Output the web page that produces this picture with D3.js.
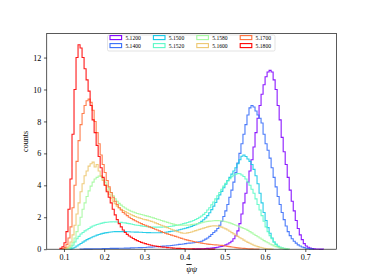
<!DOCTYPE html>
<html>
<head>
<meta charset="utf-8">
<script src="https://cdn.jsdelivr.net/npm/d3@7"></script>
<style>
  body { margin: 0; background: #fff; }
  svg { display: block; }
  .axis text { font-family: "Liberation Serif", serif; font-size: 8.1px; fill: #000; }
  .axis path, .axis line { stroke: #000; stroke-width: 0.65; }
</style>
</head>
<body>
<svg id="chart" width="374" height="280"></svg>
<script>
// beta values (legend labels), drawn in this order
const betas = ["5.1200", "5.1400", "5.1500", "5.1520", "5.1580", "5.1600", "5.1700", "5.1800"];
const colors = ["#8000ff", "#376df9", "#12c8e6", "#5bf9c7", "#a4f99f", "#edc76f", "#ff6f39", "#ff0000"];

// every series uses bins of this width, first bin edge given in binStarts
const binWidth = 0.005;
const binStarts = [0.42, 0.14, 0.115, 0.11, 0.105, 0.10, 0.095, 0.09];

const counts5120 = [0.01, 0.01, 0.02, 0.02, 0.03, 0.03, 0.04, 0.05, 0.06, 0.07, 0.08, 0.1, 0.12, 0.15, 0.18, 0.22,
  0.27, 0.33, 0.4, 0.5, 0.65, 0.85, 1.15, 1.6, 2.2, 2.9, 3.5, 4.2, 4.9, 5.6, 6.4, 7.3, 8.2, 9.0, 9.7, 10.3,
  10.8, 11.1, 11.2, 11.1, 10.6, 10.0, 9.0, 8.1, 7.0, 6.1, 5.3, 4.5, 3.7, 3.0, 2.4, 1.8, 1.3, 0.9, 0.6, 0.35,
  0.2, 0.12, 0.07, 0.04, 0.02, 0.01, 0.01, 0.005, 0.005];

const counts5140 = [0.01, 0.01, 0.02, 0.02, 0.02, 0.02, 0.03, 0.03, 0.03, 0.03, 0.03, 0.04, 0.04, 0.04, 0.04, 0.05,
  0.05, 0.05, 0.05, 0.06, 0.06, 0.06, 0.07, 0.07, 0.07, 0.08, 0.08, 0.09, 0.09, 0.1, 0.1, 0.11, 0.11, 0.12,
  0.13, 0.13, 0.14, 0.15, 0.16, 0.17, 0.18, 0.19, 0.2, 0.21, 0.22, 0.23, 0.25, 0.26, 0.28, 0.3, 0.31, 0.33,
  0.35, 0.37, 0.38, 0.39, 0.4, 0.42, 0.45, 0.47, 0.5, 0.56, 0.63, 0.7, 0.8, 0.92, 1.05, 1.15, 1.3, 1.5, 1.75,
  2.05, 2.4, 2.8, 3.25, 3.7, 4.2, 4.8, 5.4, 6.0, 6.6, 7.2, 7.8, 8.4, 8.85, 9.0, 8.9, 8.65, 8.4, 8.2, 7.9, 7.2,
  6.6, 6.2, 5.7, 5.1, 4.5, 3.9, 3.3, 2.8, 2.3, 1.85, 1.45, 1.1, 0.85, 0.65, 0.5, 0.38, 0.27, 0.2, 0.14, 0.1,
  0.06, 0.04, 0.02, 0.01];

const counts5150 = [0.02, 0.06, 0.12, 0.2, 0.28, 0.36, 0.44, 0.52, 0.6, 0.66, 0.72, 0.78, 0.83, 0.88, 0.92, 0.96,
  0.99, 1.02, 1.04, 1.06, 1.08, 1.09, 1.1, 1.1, 1.1, 1.1, 1.1, 1.1, 1.09, 1.09, 1.08, 1.08, 1.07, 1.07, 1.06,
  1.06, 1.05, 1.05, 1.04, 1.04, 1.03, 1.03, 1.03, 1.03, 1.03, 1.04, 1.05, 1.06, 1.08, 1.1, 1.12, 1.14, 1.16,
  1.19, 1.22, 1.25, 1.28, 1.31, 1.35, 1.39, 1.43, 1.48, 1.53, 1.59, 1.66, 1.74, 1.84, 1.96, 2.1, 2.28, 2.48,
  2.7, 2.92, 3.15, 3.4, 3.62, 3.85, 4.07, 4.3, 4.5, 4.7, 4.9, 5.1, 5.35, 5.6, 5.82, 5.9, 5.8, 5.65, 5.5, 5.3,
  5.0, 4.6, 4.1, 3.5, 2.9, 2.3, 1.8, 1.35, 1.0, 0.7, 0.45, 0.3, 0.17, 0.1, 0.05, 0.03, 0.01];

const counts5152 = [0.03, 0.1, 0.25, 0.45, 0.65, 0.8, 0.95, 1.05, 1.15, 1.22, 1.3, 1.38, 1.45, 1.5, 1.55, 1.58,
  1.62, 1.65, 1.68, 1.69, 1.7, 1.71, 1.72, 1.71, 1.7, 1.69, 1.68, 1.66, 1.65, 1.62, 1.6, 1.58, 1.55, 1.52,
  1.5, 1.48, 1.46, 1.44, 1.42, 1.41, 1.4, 1.39, 1.38, 1.38, 1.38, 1.38, 1.38, 1.39, 1.4, 1.41, 1.42, 1.44,
  1.46, 1.48, 1.5, 1.53, 1.56, 1.6, 1.63, 1.67, 1.71, 1.75, 1.8, 1.86, 1.92, 2.0, 2.08, 2.18, 2.3, 2.45, 2.6,
  2.78, 2.96, 3.15, 3.35, 3.55, 3.75, 3.95, 4.12, 4.28, 4.42, 4.54, 4.63, 4.7, 4.74, 4.72, 4.65, 4.55, 4.4,
  4.2, 4.0, 3.75, 3.5, 3.15, 2.8, 2.45, 2.1, 1.75, 1.4, 1.1, 0.85, 0.65, 0.45, 0.3, 0.2, 0.13, 0.08, 0.05,
  0.02, 0.01];

const counts5158 = [0.02, 0.08, 0.2, 0.4, 0.7, 1.1, 1.5, 2.0, 2.5, 2.9, 3.3, 3.65, 3.95, 4.2, 4.4, 4.5, 4.58,
  4.55, 4.4, 4.2, 4.0, 3.78, 3.55, 3.35, 3.15, 3.0, 2.87, 2.76, 2.66, 2.58, 2.5, 2.44, 2.38, 2.33, 2.28, 2.24,
  2.2, 2.17, 2.14, 2.1, 2.07, 2.04, 2.0, 1.96, 1.92, 1.88, 1.84, 1.8, 1.76, 1.72, 1.68, 1.64, 1.6, 1.57, 1.54,
  1.52, 1.5, 1.5, 1.5, 1.5, 1.51, 1.52, 1.54, 1.56, 1.58, 1.6, 1.63, 1.66, 1.69, 1.72, 1.74, 1.76, 1.77, 1.78,
  1.79, 1.79, 1.78, 1.77, 1.75, 1.72, 1.69, 1.65, 1.6, 1.55, 1.5, 1.45, 1.4, 1.35, 1.3, 1.25, 1.18, 1.1, 1.02,
  0.94, 0.86, 0.78, 0.7, 0.62, 0.54, 0.47, 0.4, 0.33, 0.27, 0.21, 0.16, 0.12, 0.08, 0.05, 0.03, 0.02, 0.01];

const counts5160 = [0.02, 0.08, 0.2, 0.45, 0.9, 1.5, 2.2, 2.9, 3.6, 4.1, 4.6, 4.9, 5.2, 5.35, 5.45, 5.15, 5.3,
  4.9, 4.6, 4.3, 4.0, 3.7, 3.45, 3.2, 3.0, 2.85, 2.7, 2.6, 2.5, 2.42, 2.35, 2.28, 2.22, 2.16, 2.1, 2.05, 2.0,
  1.96, 1.92, 1.88, 1.85, 1.82, 1.78, 1.74, 1.7, 1.65, 1.6, 1.55, 1.5, 1.45, 1.4, 1.35, 1.3, 1.25, 1.2, 1.15,
  1.1, 1.06, 1.02, 1.0, 1.0, 1.02, 1.05, 1.08, 1.12, 1.16, 1.2, 1.24, 1.28, 1.32, 1.36, 1.4, 1.43, 1.45, 1.46,
  1.46, 1.45, 1.42, 1.38, 1.33, 1.27, 1.2, 1.12, 1.04, 0.96, 0.88, 0.8, 0.72, 0.65, 0.57, 0.5, 0.43, 0.37,
  0.31, 0.25, 0.2, 0.16, 0.12, 0.09, 0.06, 0.04, 0.03, 0.02, 0.01];

const counts5170 = [0.03, 0.1, 0.3, 0.7, 1.4, 2.6, 4.0, 5.5, 6.8, 7.8, 8.5, 9.0, 9.3, 9.4, 9.2, 8.7, 8.0, 7.3,
  6.6, 5.9, 5.3, 4.8, 4.3, 3.9, 3.55, 3.25, 3.0, 2.8, 2.6, 2.45, 2.3, 2.2, 2.1, 2.0, 1.92, 1.85, 1.78, 1.72,
  1.66, 1.6, 1.55, 1.5, 1.45, 1.4, 1.35, 1.3, 1.25, 1.2, 1.15, 1.1, 1.05, 1.0, 0.96, 0.92, 0.88, 0.84, 0.8,
  0.76, 0.72, 0.68, 0.64, 0.6, 0.57, 0.54, 0.51, 0.48, 0.45, 0.42, 0.4, 0.38, 0.36, 0.34, 0.32, 0.3, 0.29,
  0.28, 0.27, 0.26, 0.25, 0.24, 0.22, 0.2, 0.18, 0.16, 0.14, 0.12, 0.1, 0.08, 0.07, 0.06, 0.05, 0.04, 0.03,
  0.02, 0.02, 0.01, 0.01, 0.01];

const counts5180 = [0.05, 0.15, 0.4, 1.1, 2.5, 4.4, 7.2, 10.0, 12.0, 12.8, 12.6, 12.0, 11.3, 10.6, 9.9, 9.0,
  8.1, 7.3, 6.5, 5.8, 5.1, 4.5, 4.0, 3.6, 3.25, 2.9, 2.5, 2.15, 1.85, 1.6, 1.4, 1.2, 1.05, 0.93, 0.83, 0.75,
  0.67, 0.6, 0.54, 0.48, 0.43, 0.39, 0.35, 0.31, 0.28, 0.25, 0.22, 0.2, 0.18, 0.16, 0.14, 0.13, 0.12, 0.1,
  0.09, 0.08, 0.07, 0.06, 0.05, 0.05, 0.04, 0.04, 0.03, 0.03, 0.02, 0.02, 0.02, 0.01, 0.01, 0.01, 0.01, 0.01,
  0.01, 0.01, 0.005, 0.005, 0.005];

const allCounts = [counts5120, counts5140, counts5150, counts5152, counts5158, counts5160, counts5170, counts5180];

const xTicks = [0.1, 0.2, 0.3, 0.4, 0.5, 0.6, 0.7];
const yTicks = [0, 2, 4, 6, 8, 10, 12];

whenReady(() => {
  const svg = d3.select("#chart");
  const left = 46.75, right = 336.6, top = 33.6, bottom = 249.2;

  const x = d3.scaleLinear().domain([0.0572, 0.7778]).range([left, right]);
  const y = d3.scaleLinear().domain([0, 13.5]).range([bottom, top]);

  // histograms, histtype='step'
  const line = d3.line()
    .x(d => x(d[0]))
    .y(d => y(d[1]))
    .curve(d3.curveStepAfter);

  allCounts.forEach((vals, k) => {
    const x0 = binStarts[k];
    const pts = [[x0, 0]];
    vals.forEach((v, i) => pts.push([x0 + i * binWidth, v]));
    const xEnd = x0 + vals.length * binWidth;
    pts.push([xEnd, vals[vals.length - 1]]);
    pts.push([xEnd, 0]);
    svg.append("path")
      .datum(pts)
      .attr("d", line)
      .attr("fill", "none")
      .attr("stroke", colors[k])
      .attr("stroke-width", 1.1)
      .attr("stroke-opacity", 0.9);
  });

  // axes
  const xAxis = d3.axisBottom(x).tickValues(xTicks).tickSize(2.8).tickPadding(2.6)
    .tickFormat(d3.format(".1f"));
  const yAxis = d3.axisLeft(y).tickValues(yTicks).tickSize(2.8).tickPadding(2.6)
    .tickFormat(d3.format("d"));

  svg.append("g").attr("class", "axis")
    .attr("transform", "translate(0," + bottom + ")")
    .call(xAxis)
    .call(g => g.select(".domain").remove());
  svg.append("g").attr("class", "axis")
    .attr("transform", "translate(" + left + ",0)")
    .call(yAxis)
    .call(g => g.select(".domain").remove());

  svg.append("rect")
    .attr("x", left).attr("y", top)
    .attr("width", right - left).attr("height", bottom - top)
    .attr("fill", "none").attr("stroke", "#000").attr("stroke-width", 0.65);

  // axis labels
  const xl = svg.append("text")
    .attr("x", (left + right) / 2).attr("y", 272)
    .attr("text-anchor", "middle")
    .style("font-family", "'Liberation Serif', serif")
    .style("font-style", "italic")
    .style("font-size", "8.6px");
  xl.append("tspan").style("text-decoration", "overline").text("\u03C8");
  xl.append("tspan").text("\u03C8");

  svg.append("text")
    .attr("transform", "translate(28," + ((top + bottom) / 2) + ") rotate(-90)")
    .attr("text-anchor", "middle")
    .style("font-family", "'Liberation Serif', serif")
    .style("font-size", "8.1px")
    .text("counts");

  // legend, 4 columns x 2 rows
  const lg = svg.append("g");
  lg.append("rect")
    .attr("x", 107.5).attr("y", 35).attr("width", 167.5).attr("height", 16)
    .attr("rx", 1.5)
    .attr("fill", "#fff").attr("fill-opacity", 0.8)
    .attr("stroke", "#d0d0d0").attr("stroke-width", 0.6);

  betas.forEach((b, k) => {
    const col = Math.floor(k / 2), row = k % 2;
    const px = 110 + col * 43.4, py = 37.6 + row * 8;
    lg.append("rect")
      .attr("x", px).attr("y", py - 2)
      .attr("width", 11.6).attr("height", 4)
      .attr("fill", "none").attr("stroke", colors[k]).attr("stroke-width", 1.1);
    lg.append("text")
      .attr("x", px + 15.4).attr("y", py + 1.9)
      .style("font-family", "'Liberation Serif', serif")
      .style("font-size", "5.6px")
      .text(b);
  });
});

function whenReady(action) {
  if (document.readyState === "loading") {
    document.addEventListener("DOMContentLoaded", action);
  } else {
    action();
  }
}
</script>
</body>
</html>
